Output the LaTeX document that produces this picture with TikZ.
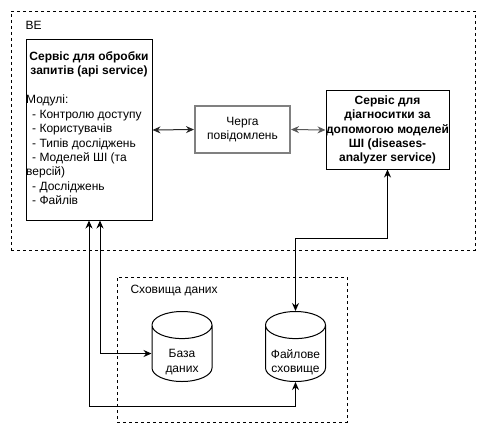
\documentclass[tikz,border=0pt]{standalone}
\usepackage{fontspec}
\setmainfont{Liberation Sans}
\usetikzlibrary{%
	arrows.meta,%
	calc,%
	shapes.geometric
}
\tikzset{
	group/.style={draw,dash pattern=on 3pt off 3pt,line width=.8pt,inner sep=0pt},
	service/.style={draw,line width=1pt,inner sep=0pt},
	queuebox/.style={draw=black!50,line width=2pt,inner sep=0pt},
	store/.style={draw,line width=1pt,cylinder,shape border rotate=90,aspect=.55,
		minimum width=60pt,minimum height=70pt,inner sep=0pt,anchor=bottom},
	link/.style={line width=1pt,{Stealth[length=8pt,width=7pt]}-{Stealth[length=8pt,width=7pt]}}
}

\begin{document}
\begin{tikzpicture}[x=1pt,y=-1pt,font=\fontsize{12}{14.4}\selectfont]
			\useasboundingbox (0,0) rectangle (486,433);
			% containers
			\node[group,minimum width=464pt,minimum height=239pt] (be) at (243,130.5) {};
			\node[anchor=west] (belabel) at (22,25) {BE};
			\node[group,minimum width=230pt,minimum height=145pt] (storage) at (232,349.5) {};
			\node[anchor=west] (storagelabel) at (127,291) {Сховища даних};
			% services
			\node[service,minimum width=126pt,minimum height=180pt] (api) at (89,130) {};
			\node[anchor=north,align=center,font=\fontsize{12}{14.4}\selectfont\bfseries,inner sep=0pt]
			(apititle) at (89,51) {Сервіс для обробки\\запитів (api service)};
			\node[anchor=north west,align=left,inner sep=0pt] (apimodules) at (26,95)
			{Модулі:\\
				\hspace{6pt}- Контролю доступу\\
				\hspace{6pt}- Користувачів\\
				\hspace{6pt}- Типів досліджень\\
				\hspace{6pt}- Моделей ШІ (та\\
				версій)\\
				\hspace{6pt}- Досліджень\\
				\hspace{6pt}- Файлів};
			\node[queuebox,minimum width=95pt,minimum height=47pt,align=center] (queue) at (242.5,129.5)
			{Черга\\повідомлень};
			\node[service,minimum width=123pt,minimum height=78pt,align=center,
			font=\fontsize{12}{14.4}\selectfont\bfseries] (analyzer) at (387.5,130)
			{Сервіс для\\діагноситки за\\допомогою моделей\\ШІ (diseases-\\analyzer service)};
			% storages
			\node[store] (db) at (182,382) {\phantom{Файлове}};
			\node[store] (files) at (295.5,382) {\phantom{Файлове}};
			\node[align=center] (dbtext) at ([yshift=20pt]db.bottom) {База\\даних};
			\node[align=center] (filestext) at ([yshift=20pt]files.bottom) {Файлове\\сховище};
			% connectors
			\coordinate (midrun) at (0,238);
			\coordinate (lowrun) at (0,406);
			\draw[link,black!85] (api.east) -- (queue.west);
			\draw[link,black!65] (queue.east) -- (analyzer.west);
			\draw[link] (analyzer.south) -- (analyzer.south |- midrun) -| (files.top);
			\draw[link] ([xshift=11pt]api.south) |- (db.west);
			\draw[link] (api.south) -- (api.south |- lowrun) -| (files.bottom);
		\end{tikzpicture}
\end{document}
